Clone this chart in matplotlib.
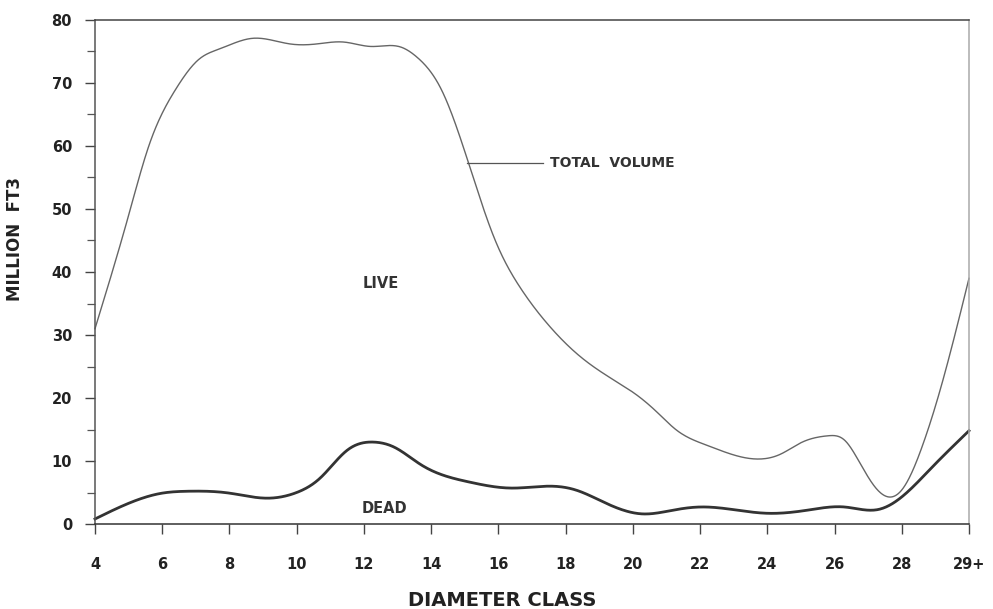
import numpy as np
import matplotlib
matplotlib.use("Agg")
import matplotlib.pyplot as plt
from matplotlib.ticker import FixedLocator

plt.rcParams['font.family'] = ['DejaVu Sans']
plt.rcParams['font.weight'] = 'bold'

# values (diameter class, million ft3)
total_x = [4, 5, 5.6, 6.4, 7.1, 7.7, 8.7, 9.8, 10.6, 11.4, 12.2, 13.1, 13.6, 14.3,
           15.1, 15.9, 16.64, 17.44, 18.43, 19.42, 20.11, 20.71, 21.3, 22.2, 23.18, 24.4,
           25.0, 25.8, 26.3, 26.7, 27.2, 27.6, 28.0, 28.6, 29.1, 30]
total_y = [31, 49, 60, 69, 73.8, 75.4, 77.1, 76.2, 76.2, 76.5, 75.8, 75.7, 74.0, 69.0,
           57.5, 45.1, 37.6, 31.9, 26.6, 22.9, 20.5, 17.8, 14.9, 12.5, 10.7, 11.1,
           12.9, 14.0, 13.3, 10.2, 5.9, 4.3, 5.4, 12.2, 20.5, 39]

dead_x = [4, 5.1, 6.0, 6.75, 8.0, 9.1, 10.0, 10.7, 11.5, 12.3, 12.9, 13.7, 15.1, 16.4,
          17.6, 18.3, 19.2, 20.3, 21.2, 22.0, 23.1, 24.0, 25.2, 26.3, 27.3, 28.0, 28.9, 30]
dead_y = [0.8, 3.5, 4.9, 5.2, 4.9, 4.1, 5.0, 7.3, 11.7, 13.0, 12.2, 9.4, 6.7, 5.7,
          6.0, 5.4, 3.3, 1.6, 2.2, 2.7, 2.2, 1.7, 2.2, 2.7, 2.3, 4.3, 9.0, 14.8]

tick_pos = [4, 6, 8, 10, 12, 14, 16, 18, 20, 22, 24, 26, 28, 30]
tick_labels = ['4', '6', '8', '10', '12', '14', '16', '18', '20', '22', '24', '26', '28', '29+']


def smooth(x, y, n=30):
    # natural cubic spline through the read points, only for drawing a smooth pen line
    x = np.asarray(x, float)
    y = np.asarray(y, float)
    h = np.diff(x)
    k = len(x)
    A = np.zeros((k, k))
    b = np.zeros(k)
    A[0, 0] = A[-1, -1] = 1
    for i in range(1, k - 1):
        A[i, i - 1] = h[i - 1]
        A[i, i] = 2 * (h[i - 1] + h[i])
        A[i, i + 1] = h[i]
        b[i] = 6 * ((y[i + 1] - y[i]) / h[i] - (y[i] - y[i - 1]) / h[i - 1])
    M = np.linalg.solve(A, b)
    xs, ys = [], []
    for i in range(k - 1):
        t = np.linspace(x[i], x[i + 1], n, endpoint=False)
        a = x[i + 1] - t
        c = t - x[i]
        s = (M[i] * a ** 3 + M[i + 1] * c ** 3) / (6 * h[i]) \
            + (y[i] / h[i] - M[i] * h[i] / 6) * a + (y[i + 1] / h[i] - M[i + 1] * h[i] / 6) * c
        xs.extend(t)
        ys.extend(s)
    xs.append(x[-1])
    ys.append(y[-1])
    return np.array(xs), np.array(ys)


fig = plt.figure(figsize=(9.93, 6.09), dpi=100)
ax = fig.add_axes([95 / 993, 1 - 524 / 609, (969 - 95) / 993, (524 - 20) / 609])

tx, ty = smooth(total_x, total_y)
dx, dy = smooth(dead_x, dead_y)
ax.plot(tx, ty, color='#666666', lw=1.0, clip_on=False)
ax.plot(dx, dy, color='#333333', lw=2.0, clip_on=False)

ax.set_xlim(4, 30)
ax.set_ylim(0, 80)

ax.set_xticks(tick_pos)
ax.set_xticklabels(tick_labels)
ax.set_yticks(range(0, 81, 10))
ax.yaxis.set_minor_locator(FixedLocator(range(5, 80, 10)))

ax.tick_params(axis='both', which='major', direction='out', length=7.5, width=1.0,
               color='#444444', labelsize=10.5)
ax.tick_params(axis='y', which='minor', direction='out', length=5.5, width=0.9, color='#555555')
ax.tick_params(axis='x', pad=16)
ax.tick_params(axis='y', pad=9)

for lab in ax.get_xticklabels() + ax.get_yticklabels():
    lab.set_fontweight('bold')
    lab.set_color('#222222')

ax.spines['left'].set_color('#555555')
ax.spines['bottom'].set_color('#333333')
ax.spines['top'].set_color('#444444')
ax.spines['right'].set_color('#aaaaaa')
for s in ax.spines.values():
    s.set_linewidth(1.1)

fig.text(15 / 993, 1 - 239 / 609, 'MILLION  FT3', fontsize=12, fontweight='bold',
         color='#222222', rotation=90, ha='center', va='center')
fig.text(502 / 993, 1 - 600 / 609, 'DIAMETER CLASS', fontsize=14, fontweight='bold',
         color='#222222', ha='center', va='center')

ax.text(12.5, 37.5, 'LIVE', fontsize=10.5, fontweight='bold', color='#333333',
        ha='center', va='baseline')
ax.text(12.6, 1.75, 'DEAD', fontsize=10.5, fontweight='bold', color='#333333',
        ha='center', va='baseline')
ax.plot([15.07, 17.33], [57.3, 57.3], color='#555555', lw=0.9)
ax.text(17.53, 56.7, 'TOTAL  VOLUME', fontsize=10, fontweight='bold', color='#333333',
        ha='left', va='baseline')

fig.savefig('out.png', dpi=100)
